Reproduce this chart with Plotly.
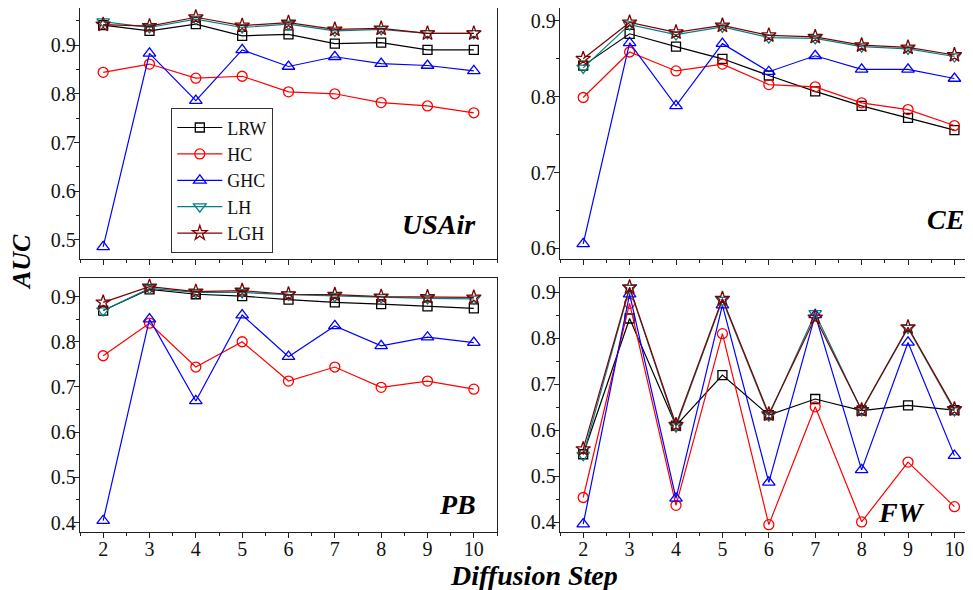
import plotly.graph_objects as go

steps = [2, 3, 4, 5, 6, 7, 8, 9, 10]
methods = ["LRW", "HC", "GHC", "LH", "LGH"]

usair_lrw = [0.941, 0.929, 0.943, 0.919, 0.922, 0.903, 0.905, 0.890, 0.890]
usair_hc = [0.844, 0.861, 0.832, 0.836, 0.804, 0.800, 0.782, 0.775, 0.761]
usair_ghc = [0.486, 0.883, 0.786, 0.890, 0.856, 0.876, 0.862, 0.858, 0.847]
usair_lh = [0.948, 0.936, 0.953, 0.936, 0.943, 0.929, 0.932, 0.924, 0.924]
usair_lgh = [0.942, 0.939, 0.957, 0.940, 0.946, 0.932, 0.934, 0.924, 0.924]

ce_lrw = [0.841, 0.883, 0.866, 0.850, 0.828, 0.807, 0.788, 0.772, 0.756]
ce_hc = [0.799, 0.859, 0.834, 0.843, 0.816, 0.813, 0.792, 0.783, 0.762]
ce_ghc = [0.606, 0.871, 0.788, 0.870, 0.833, 0.854, 0.836, 0.836, 0.824]
ce_lh = [0.838, 0.895, 0.882, 0.892, 0.878, 0.877, 0.866, 0.863, 0.853]
ce_lgh = [0.850, 0.898, 0.885, 0.894, 0.881, 0.879, 0.868, 0.865, 0.855]

pb_lrw = [0.869, 0.916, 0.905, 0.901, 0.893, 0.887, 0.883, 0.878, 0.874]
pb_hc = [0.769, 0.841, 0.744, 0.800, 0.713, 0.744, 0.699, 0.713, 0.695]
pb_ghc = [0.404, 0.850, 0.669, 0.859, 0.767, 0.835, 0.791, 0.810, 0.798]
pb_lh = [0.869, 0.918, 0.909, 0.909, 0.904, 0.901, 0.898, 0.896, 0.895]
pb_lgh = [0.887, 0.922, 0.911, 0.913, 0.905, 0.904, 0.900, 0.899, 0.898]

fw_lrw = [0.548, 0.843, 0.610, 0.720, 0.633, 0.668, 0.643, 0.654, 0.644]
fw_hc = [0.454, 0.876, 0.437, 0.810, 0.395, 0.651, 0.401, 0.531, 0.434]
fw_ghc = [0.396, 0.896, 0.452, 0.872, 0.487, 0.851, 0.514, 0.791, 0.545]
fw_lh = [0.546, 0.909, 0.608, 0.883, 0.632, 0.854, 0.643, 0.822, 0.643]
fw_lgh = [0.559, 0.911, 0.612, 0.886, 0.635, 0.845, 0.644, 0.824, 0.646]

datasets = ["USAir", "CE", "PB", "FW"]
values = {
    "USAir": [usair_lrw, usair_hc, usair_ghc, usair_lh, usair_lgh],
    "CE": [ce_lrw, ce_hc, ce_ghc, ce_lh, ce_lgh],
    "PB": [pb_lrw, pb_hc, pb_ghc, pb_lh, pb_lgh],
    "FW": [fw_lrw, fw_hc, fw_ghc, fw_lh, fw_lgh],
}

colors = ["#000000", "#ff0000", "#0000ff", "#008080", "#800000"]
symbols = ["square-open", "circle-open", "triangle-up-open", "triangle-down-open", "star-open"]
msizes = [9, 10, 11, 11, 11]

FONT = "Liberation Serif"

fig = go.Figure()
axes_ids = [("x", "y"), ("x2", "y2"), ("x3", "y3"), ("x4", "y4")]
for pi, ds in enumerate(datasets):
    xa, ya = axes_ids[pi]
    for mi, m in enumerate(methods):
        fig.add_trace(go.Scatter(
            x=steps, y=values[ds][mi], mode="lines+markers", name=m,
            xaxis=xa, yaxis=ya,
            line=dict(color=colors[mi], width=1.2),
            marker=dict(symbol=symbols[mi], size=msizes[mi], color=colors[mi],
                        line=dict(width=1.3, color=colors[mi])),
            showlegend=(pi == 0),
        ))

OFF = 8
W, H = 973 - OFF, 590 - OFF
ml, mr, mt, mb = 80 - OFF, 0, 0, 590 - 532
pw, ph = W - ml - mr, H - mt - mb

def px(x):
    return (x - OFF - ml) / pw

def py(y):
    return (H - mb - (y - OFF)) / ph

xdom_l = [px(80), px(497)]
xdom_r = [px(560), 1.0]
ydom_t = [py(259), 1.0]
ydom_b = [0.0, py(278)]

common_ax = dict(showgrid=False, zeroline=False, showline=True, linecolor="#222",
                 linewidth=1.3, mirror=True, ticks="outside", ticklen=5, tickwidth=1.2,
                 tickcolor="#222", tickfont=dict(family=FONT, size=20, color="#111"))

def xaxis(dom, anchor, rng, show_labels):
    d = dict(common_ax)
    d.update(domain=dom, anchor=anchor, range=rng, tickmode="array", tickvals=steps,
             ticktext=[str(s) for s in steps], showticklabels=show_labels,
             ticklabelstandoff=-6,
             minor=dict(ticks="outside", ticklen=3, dtick=0.5, tick0=1.5, tickcolor="#222"))
    return d

def yaxis(dom, anchor, rng, tickvals):
    d = dict(common_ax)
    d.update(domain=dom, anchor=anchor, range=rng, tickmode="array", tickvals=tickvals,
             ticktext=["%.1f" % v for v in tickvals], ticklabelstandoff=-6,
             minor=dict(ticks="outside", ticklen=3, dtick=0.05, tick0=0.0, tickcolor="#222"))
    return d

fig.update_layout(
    width=W, height=H,
    margin=dict(l=ml, r=mr, t=mt, b=mb),
    paper_bgcolor="white", plot_bgcolor="white",
    xaxis=xaxis(xdom_l, "y", [1.5, 10.5], False),
    yaxis=yaxis(ydom_t, "x", [0.461, 0.976], [0.5, 0.6, 0.7, 0.8, 0.9]),
    xaxis2=xaxis(xdom_r, "y2", [1.5, 10.4], False),
    yaxis2=yaxis(ydom_t, "x2", [0.586, 0.917], [0.6, 0.7, 0.8, 0.9]),
    xaxis3=xaxis(xdom_l, "y3", [1.5, 10.5], True),
    yaxis3=yaxis(ydom_b, "x3", [0.379, 0.941], [0.4, 0.5, 0.6, 0.7, 0.8, 0.9]),
    xaxis4=xaxis(xdom_r, "y4", [1.5, 10.4], True),
    yaxis4=yaxis(ydom_b, "x4", [0.379, 0.931], [0.4, 0.5, 0.6, 0.7, 0.8, 0.9]),
    legend=dict(x=px(171), y=py(108), xanchor="left", yanchor="top",
                bordercolor="#333", borderwidth=1.3, bgcolor="white",
                font=dict(family=FONT, size=18, color="#111"), tracegroupgap=0,
                itemwidth=45),
    showlegend=True,
)

lbl_font = dict(family=FONT, size=28, color="#000")

anns = [
    ("<b><i>USAir</i></b>", 478, 224, "right"),
    ("<b><i>CE</i></b>", 966, 219, "right"),
    ("<b><i>PB</i></b>", 478, 504, "right"),
    ("<b><i>FW</i></b>", 927, 512, "right"),
]
for txt, x, y, xa in anns:
    fig.add_annotation(text=txt, x=px(x), y=py(y), xref="paper", yref="paper",
                       xanchor=xa, yanchor="middle", showarrow=False, font=lbl_font)

fig.add_annotation(text="<b><i>AUC</i></b>", x=px(21), y=py(262), xref="paper",
                   yref="paper", xanchor="center", yanchor="middle", textangle=-90,
                   showarrow=False, font=dict(family=FONT, size=26, color="#000"))
fig.add_annotation(text="<b><i>Diffusion Step</i></b>", x=px(534), y=py(575),
                   xref="paper", yref="paper", xanchor="center", yanchor="middle",
                   showarrow=False, font=lbl_font)

fig.write_html("out.html")
